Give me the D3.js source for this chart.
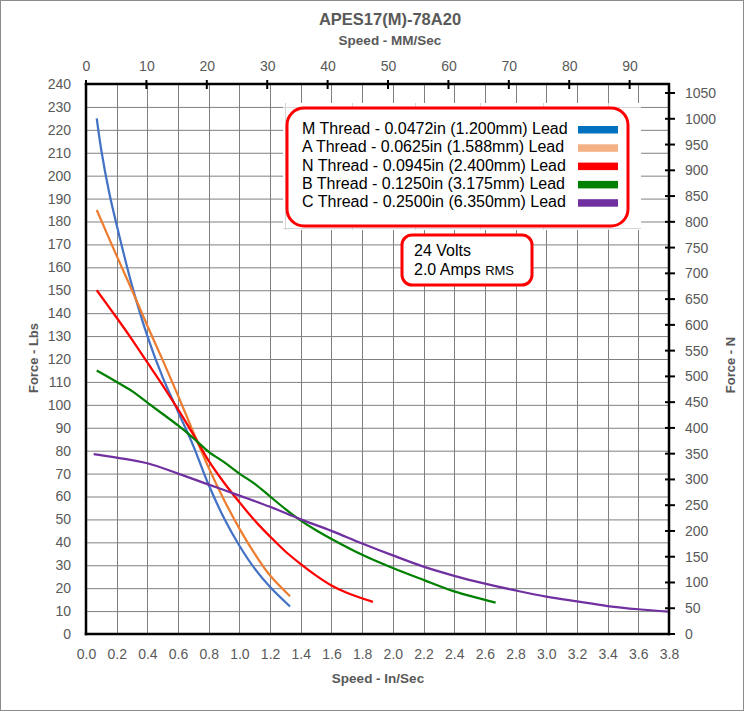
<!DOCTYPE html>
<html><head><meta charset="utf-8">
<script src="https://cdn.jsdelivr.net/npm/d3@7"></script>
<style>
html,body{margin:0;padding:0;background:#fff;}
svg{display:block;font-family:"Liberation Sans",Arial,sans-serif;}
</style></head>
<body><svg id="c" width="744" height="711"></svg>
<script>
// ---- data ----
const seriesNames = [
  "M Thread - 0.0472in (1.200mm) Lead",
  "A Thread - 0.0625in (1.588mm) Lead",
  "N Thread - 0.0945in (2.400mm) Lead",
  "B Thread - 0.1250in (3.175mm) Lead",
  "C Thread - 0.2500in (6.350mm) Lead"
];
const lineColors   = ["#4472C4","#ED7D31","#FF0000","#008000","#7030A0"];
const swatchColors = ["#0070C0","#F4B183","#FF0000","#008000","#7030A0"];
const mThread = [[0.07,225],[0.1,211],[0.15,193],[0.2,178.5],[0.3,152],[0.4,130],[0.5,112],[0.6,97],[0.7,82],[0.8,65],[0.9,50.5],[1.0,38.5],[1.1,28.5],[1.2,20.5],[1.33,12]];
const aThread = [[0.07,185],[0.2,165],[0.3,150],[0.4,134.5],[0.5,119.5],[0.6,104],[0.7,88],[0.8,72.5],[0.9,58.5],[1.0,46],[1.1,35],[1.2,25.5],[1.33,16.5]];
const nThread = [[0.07,150],[0.2,138],[0.3,128.5],[0.4,118.5],[0.5,108.5],[0.6,98],[0.7,87],[0.8,75.5],[0.9,66],[1.0,57.5],[1.1,49.5],[1.2,42.5],[1.3,36],[1.4,30.5],[1.5,25.5],[1.6,21.2],[1.7,18],[1.87,14]];
const bThread = [[0.07,115],[0.2,110],[0.3,106],[0.4,101],[0.5,96],[0.6,91],[0.7,85.5],[0.8,79.5],[0.9,75],[1.0,70],[1.1,65.5],[1.2,60],[1.3,54.5],[1.4,49.5],[1.5,45.3],[1.6,41.5],[1.8,34.6],[2.0,28.8],[2.2,23.6],[2.4,18.6],[2.67,13.7]];
const cThread = [[0.05,78.5],[0.2,77],[0.4,74.5],[0.6,70],[0.8,65.2],[1.0,60.4],[1.2,55.5],[1.4,50],[1.6,45],[1.8,39.5],[2.0,34.3],[2.2,29.4],[2.4,25.4],[2.6,22],[2.8,19],[3.0,16.3],[3.2,14.2],[3.4,12.2],[3.6,10.8],[3.8,9.8]];
const allSeries = [mThread,aThread,nThread,bThread,cThread];
const xTicksIn  = [0,0.2,0.4,0.6,0.8,1.0,1.2,1.4,1.6,1.8,2.0,2.2,2.4,2.6,2.8,3.0,3.2,3.4,3.6,3.8];
const xTicksMM  = [0,10,20,30,40,50,60,70,80,90];
const yTicksLbs = d3.range(0,241,10);
const yTicksN   = d3.range(0,1051,50);
const titleText = "APES17(M)-78A20";
const topTitle = "Speed - MM/Sec";
const bottomTitle = "Speed - In/Sec";
const leftTitle = "Force - Lbs";
const rightTitle = "Force - N";

// ---- layout ----
const L=86, R=669, T=84, B=634;
const svg = d3.select("#c");
const txt = "#595959";
svg.append("rect").attr("x",0.5).attr("y",0.5).attr("width",743).attr("height",710)
  .attr("fill","#fff").attr("stroke","#8c8c8c");

const x = d3.scaleLinear().domain([0,3.8]).range([L,R]);
const y = d3.scaleLinear().domain([0,240]).range([B,T]);
const xmm = d3.scaleLinear().domain([0,3.8*25.4]).range([L,R]);
const yN = d3.scaleLinear().domain([0,240*4.448]).range([B,T]);

// grid
const g = svg.append("g");
g.selectAll(".hg").data(yTicksLbs.filter(v=>v>0&&v<240)).join("line")
  .attr("x1",L).attr("x2",R).attr("y1",d=>y(d)+0.5).attr("y2",d=>y(d)+0.5)
  .attr("stroke","#808080").attr("stroke-width",1);
g.selectAll(".vg").data(xTicksIn.filter(v=>v>0&&v<3.8)).join("line")
  .attr("y1",T).attr("y2",B).attr("x1",d=>Math.round(x(d))+0.5).attr("x2",d=>Math.round(x(d))+0.5)
  .attr("stroke","#808080").attr("stroke-width",1);

// legend image area (white with faint lines)
const lg = svg.append("g");
lg.append("rect").attr("x",283).attr("y",103).attr("width",358).attr("height",127).attr("fill","#fff");
[107,228].forEach(yy=>lg.append("line").attr("x1",283).attr("x2",641).attr("y1",yy+0.5).attr("y2",yy+0.5).attr("stroke","#d6d6d6"));
[285,352,415,480,543,608].forEach(xx=>lg.append("line").attr("x1",xx+0.5).attr("x2",xx+0.5).attr("y1",103).attr("y2",230).attr("stroke","#d6d6d6"));

// series lines
const line = d3.line().x(d=>x(d[0])).y(d=>y(d[1])).curve(d3.curveCatmullRom.alpha(0.5));
svg.append("g").selectAll("path").data(allSeries).join("path")
  .attr("d",line).attr("fill","none")
  .attr("stroke",(d,i)=>lineColors[i]).attr("stroke-width",2.25)
  .attr("stroke-linejoin","round");

// axes lines
const ax = svg.append("g").attr("stroke","#000").attr("stroke-width",2.5);
ax.append("line").attr("x1",L).attr("x2",L).attr("y1",T-1).attr("y2",B+1.25);
ax.append("line").attr("x1",L-1.25).attr("x2",R+1).attr("y1",B).attr("y2",B);
ax.append("line").attr("x1",L-1.25).attr("x2",R+1).attr("y1",T).attr("y2",T);
ax.append("line").attr("x1",R).attr("x2",R).attr("y1",T-1).attr("y2",B+1.25);
// top ticks (crossing)
svg.append("g").selectAll("line").data(xTicksMM).join("line")
  .attr("x1",d=>xmm(d)).attr("x2",d=>xmm(d)).attr("y1",T-4).attr("y2",T+5)
  .attr("stroke","#000").attr("stroke-width",2);
// right ticks (crossing)
svg.append("g").selectAll("line").data(yTicksN).join("line")
  .attr("y1",d=>yN(d)).attr("y2",d=>yN(d)).attr("x1",R-4).attr("x2",R+6)
  .attr("stroke","#000").attr("stroke-width",2);

function styleAxis(sel){
  sel.select(".domain").remove();
  sel.selectAll(".tick line").remove();
  sel.selectAll("text").attr("fill",txt).style("font-size","14px")
     .style("font-family","'Liberation Sans',Arial,sans-serif");
}
svg.append("g").attr("transform",`translate(${L},0)`)
  .call(d3.axisLeft(y).tickValues(yTicksLbs).tickSize(0).tickPadding(15).tickFormat(d3.format("d"))).call(styleAxis);
svg.append("g").attr("transform",`translate(0,${B})`)
  .call(d3.axisBottom(x).tickValues(xTicksIn).tickSize(0).tickPadding(15).tickFormat(d3.format(".1f"))).call(styleAxis);
svg.append("g").attr("transform",`translate(0,${T})`)
  .call(d3.axisTop(xmm).tickValues(xTicksMM).tickSize(0).tickPadding(13).tickFormat(d3.format("d"))).call(styleAxis);
svg.append("g").attr("transform",`translate(${R},0)`)
  .call(d3.axisRight(yN).tickValues(yTicksN).tickSize(0).tickPadding(16).tickFormat(d3.format("d"))).call(styleAxis);

// titles
svg.append("text").attr("x",390).attr("y",25).attr("text-anchor","middle")
  .attr("fill",txt).style("font-size","16.5px").style("font-weight","bold").text(titleText);
svg.append("text").attr("x",390).attr("y",45).attr("text-anchor","middle")
  .attr("fill",txt).style("font-size","13.5px").style("font-weight","bold").text(topTitle);
svg.append("text").attr("x",378).attr("y",683).attr("text-anchor","middle")
  .attr("fill",txt).style("font-size","13.5px").style("font-weight","bold").text(bottomTitle);
svg.append("text").attr("transform","translate(38,358) rotate(-90)").attr("text-anchor","middle")
  .attr("fill",txt).style("font-size","13px").style("font-weight","bold").text(leftTitle);
svg.append("text").attr("transform","translate(735,365) rotate(-90)").attr("text-anchor","middle")
  .attr("fill",txt).style("font-size","13px").style("font-weight","bold").text(rightTitle);

// legend box
svg.append("rect").attr("x",287).attr("y",108).attr("width",341).attr("height",118)
  .attr("rx",17).attr("fill","#fff").attr("stroke","#FF0000").attr("stroke-width",3);
const leg = svg.append("g").selectAll("g").data(seriesNames).join("g")
  .attr("transform",(d,i)=>`translate(0,${134+i*18.3})`);
leg.append("text").attr("x",302).attr("y",0).attr("fill","#000")
  .style("font-size","16px").text(d=>d);
leg.append("rect").attr("x",578).attr("y",-8).attr("width",40).attr("height",7.5)
  .attr("fill",(d,i)=>swatchColors[i]);

// volts box
svg.append("rect").attr("x",402).attr("y",235).attr("width",130).attr("height",50)
  .attr("rx",10).attr("fill","#fff").attr("stroke","#FF0000").attr("stroke-width",3);
svg.append("text").attr("x",414).attr("y",256).attr("fill","#000").style("font-size","16px").text("24 Volts");
const t2 = svg.append("text").attr("x",414).attr("y",275).attr("fill","#000").style("font-size","16px");
t2.append("tspan").text("2.0 Amps ");
t2.append("tspan").style("font-size","13px").text("RMS");
</script></body></html>
